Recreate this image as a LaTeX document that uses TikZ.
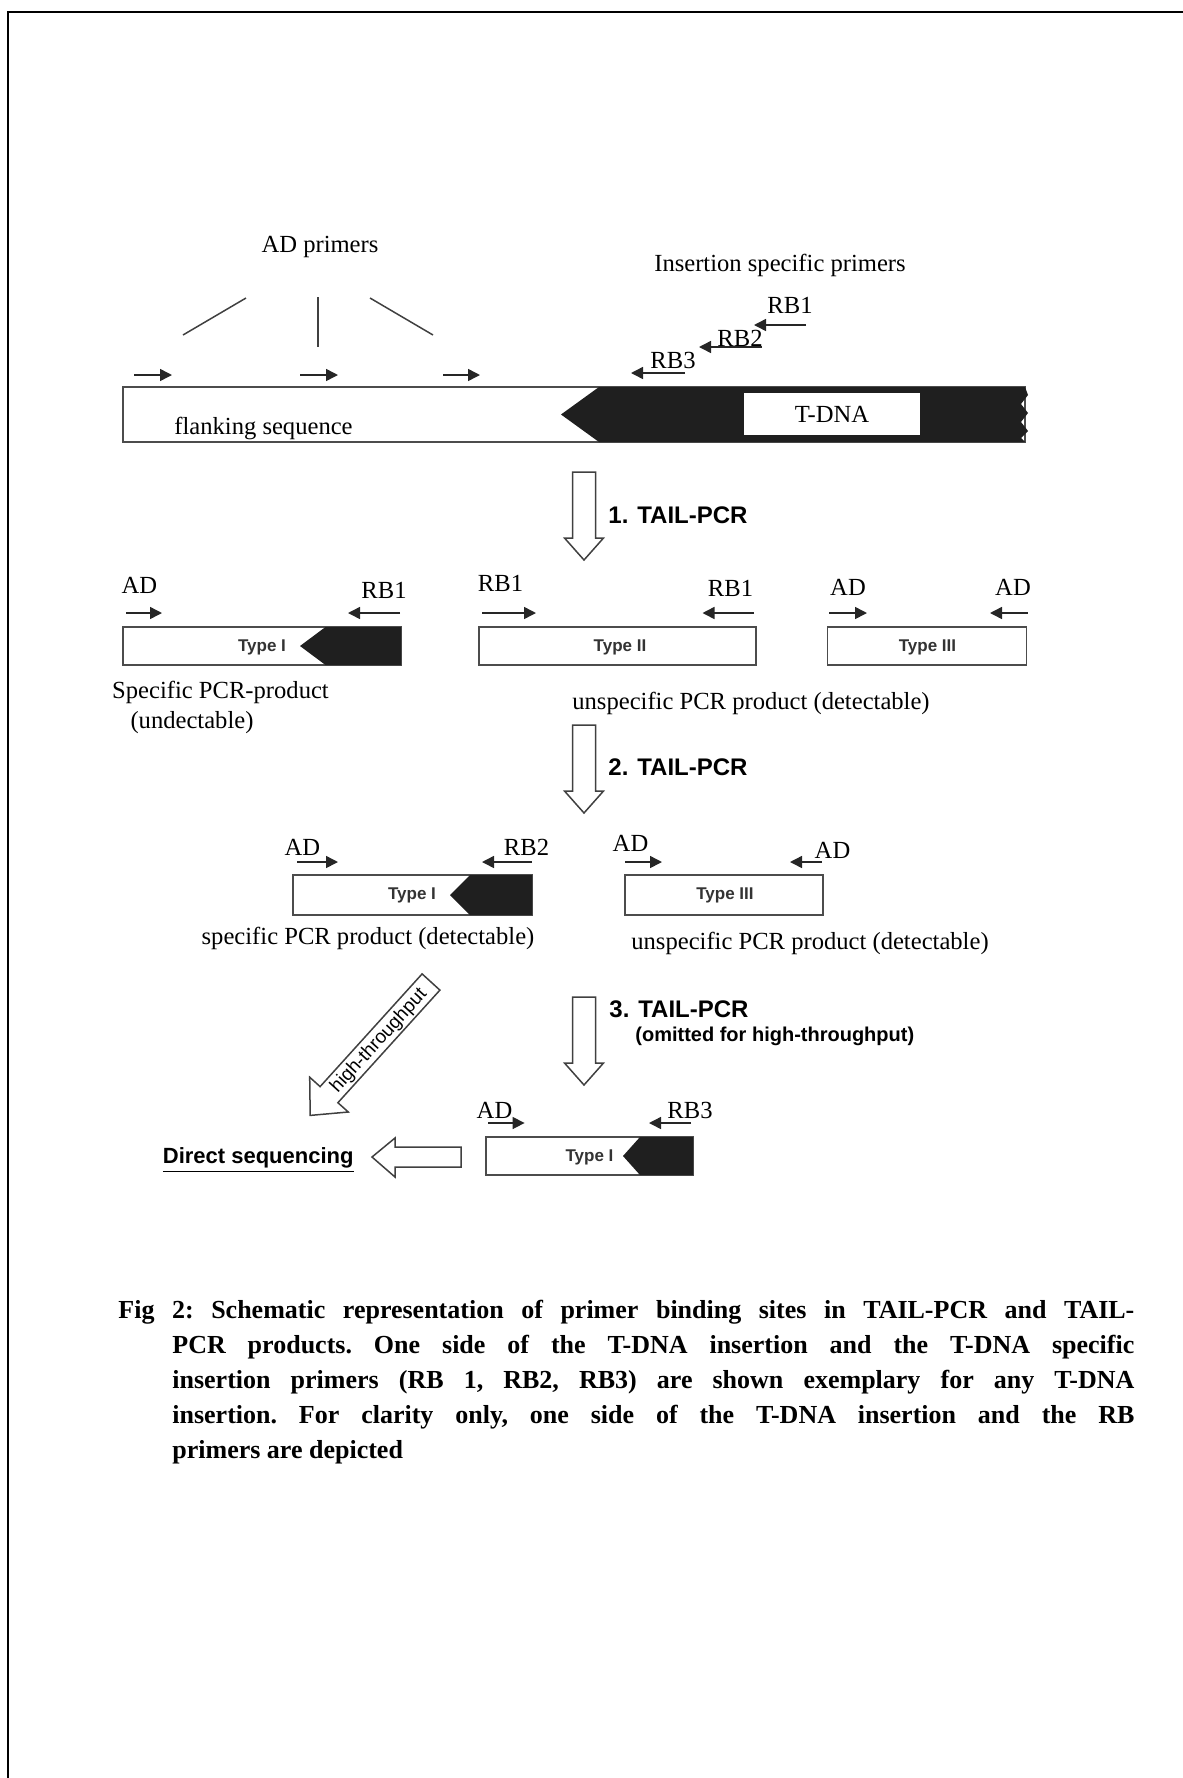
\documentclass[tikz,border=0pt]{standalone}
\usepackage{fontspec}
\setmainfont{Liberation Serif}
\setsansfont{Liberation Sans}
\usetikzlibrary{arrows.meta}
\begin{document}
\begin{tikzpicture}[x=0.5pt,y=-0.5pt,
  lbl/.style={font=\fontsize{12.3}{14}\selectfont, inner sep=0pt},
  typ/.style={font=\sffamily\bfseries\fontsize{8.5}{10}\selectfont, text=black!80, inner sep=0pt},
  pcr/.style={font=\sffamily\bfseries\fontsize{12}{14}\selectfont, inner sep=0pt, anchor=west},
  prim/.style={line width=0.75pt, draw=black!85, -{Triangle[length=6pt,width=6pt]}},
  seg/.style={line width=0.75pt, draw=black!75},
  dna/.style={draw=black!70, line width=0.8pt, fill=white},
  blk/.style={fill=black!88},
  hol/.style={draw=black!75, line width=0.75pt, fill=white, line join=miter},
  downarr/.pic={\draw[hol] (-11.5,0) -- (11.5,0) -- (11.5,66) -- (19.5,66) -- (0,88) -- (-19.5,66) -- (-11.5,66) -- cycle;}
]
\useasboundingbox (0,0) rectangle (1183,1778);
% frame
\draw[line width=1.3pt] (8,1778) -- (8,12) -- (1183,12);

% ---------- top: insertion ----------
\node[lbl] (adp) at (320,247) {AD primers};
\draw[seg] (183,335) -- (246,298);
\draw[seg] (318,297) -- (318,347);
\draw[seg] (370,298) -- (433,335);
\node[lbl] (isp) at (780,265) {Insertion specific primers};
\node[lbl] (rbA) at (790,305) {RB1};
\draw[prim] (806,325) -- (754,325);
\node[lbl] (rbB) at (740,338) {RB2};
\draw[prim] (762,347) -- (699,347);
\node[lbl] (rbC) at (673,360) {RB3};
\draw[prim] (685,373) -- (631,373);
\draw[prim] (134,375) -- (172,375);
\draw[prim] (300,375) -- (338,375);
\draw[prim] (443,375) -- (480,375);

\draw[dna] (123,387) rectangle (1025,442);
\fill[blk] (561,414.5) -- (599,387) -- (1025,387) -- (1028,395) -- (1021,404) -- (1028,413) -- (1021,422) -- (1028,431) -- (1021,438) -- (1025,442) -- (599,442) -- cycle;
\fill[white] (744,393) rectangle (920,435);
\node[lbl] (tdna) at (832,414) {T-DNA};
\node[lbl] (flank) at (263.5,428) {flanking sequence};

% ---------- step 1 ----------
\pic at (584,472) {downarr};
\node[pcr] (tp1) at (608,515) {1. TAIL-PCR};

\draw[dna] (123,627) rectangle (401,665);
\fill[blk] (300,646) -- (325.5,627) -- (401,627) -- (401,665) -- (325.5,665) -- cycle;
\node[typ] (ty1) at (262,647) {Type I};
\node[lbl] (ad1) at (139.5,585) {AD};
\draw[prim] (126,613) -- (162,613);
\node[lbl] (rb11) at (384,590) {RB1};
\draw[prim] (400,613) -- (348,613);

\draw[dna] (479,627) rectangle (756,665);
\node[typ] (ty2) at (620,647) {Type II};
\node[lbl] (rb12) at (500.5,583) {RB1};
\draw[prim] (482,613) -- (536,613);
\node[lbl] (rb13) at (730.5,588) {RB1};
\draw[prim] (754,613) -- (702.5,613);

\draw[dna] (827.5,627) rectangle (1026.4,665);
\node[typ] (ty3) at (927.5,647) {Type III};
\node[lbl] (ad2) at (848,587) {AD};
\draw[prim] (829,613) -- (867,613);
\node[lbl] (ad3) at (1013,587) {AD};
\draw[prim] (1027.5,613) -- (990,613);

\node[lbl] (sp1) at (220.5,692) {Specific PCR-product};
\node[lbl] (sp2) at (192,723) {(undectable)};
\node[lbl] (us1) at (751,703) {unspecific PCR product (detectable)};

% ---------- step 2 ----------
\pic at (584,725) {downarr};
\node[pcr] (tp2) at (608,767) {2. TAIL-PCR};

\draw[dna] (293,875) rectangle (532,915);
\fill[blk] (450,895) -- (470,875) -- (532,875) -- (532,915) -- (470,915) -- cycle;
\node[typ] (ty4) at (412,895) {Type I};
\node[lbl] (ad4) at (302.5,847) {AD};
\draw[prim] (297,862) -- (338,862);
\node[lbl] (rb21) at (526.5,847) {RB2};
\draw[prim] (532,862) -- (482,862);

\draw[dna] (625,875) rectangle (823,915);
\node[typ] (ty5) at (725,895) {Type III};
\node[lbl] (ad5) at (630.5,843) {AD};
\draw[prim] (625,862) -- (662,862);
\node[lbl] (ad6) at (832.5,850) {AD};
\draw[prim] (822,862) -- (790,862);

\node[lbl] (sp3) at (368,938) {specific PCR product (detectable)};
\node[lbl] (us2) at (810,943) {unspecific PCR product (detectable)};

% ---------- step 3 ----------
\pic at (584,997) {downarr};
\node[pcr] (tp3) at (609,1009) {3. TAIL-PCR};
\node[font=\sffamily\bfseries\fontsize{10}{12}\selectfont, anchor=west, inner sep=0pt] (omit) at (635,1036) {(omitted for high-throughput)};

\draw[hol] (439.9,990.1) -- (422.1,973.9) -- (320.1,1086.6) -- (309.7,1077.2) -- (310.2,1115.4) -- (348.3,1112.0) -- (337.9,1102.7) -- cycle;
\node[font=\sffamily\fontsize{9.5}{11}\selectfont, rotate=47.8, inner sep=0pt] (ht) at (379,1041) {high-throughput};

\draw[dna] (486,1137) rectangle (693,1175);
\fill[blk] (623,1156) -- (640,1137) -- (693,1137) -- (693,1175) -- (640,1175) -- cycle;
\node[typ] (ty6) at (589.5,1157) {Type I};
\node[lbl] (ad7) at (494.5,1110) {AD};
\draw[prim] (488,1123) -- (524.6,1123);
\node[lbl] (rb31) at (690,1110) {RB3};
\draw[prim] (691,1123) -- (649,1123);

\draw[hol] (461,1147) -- (461,1167) -- (395,1167) -- (395,1177) -- (372,1157) -- (395,1138) -- (395,1147) -- cycle;
\node[font=\sffamily\bfseries\fontsize{11}{13}\selectfont, anchor=east, inner sep=0pt] (dseq) at (354,1160) {\underline{Direct sequencing}};

% ---------- caption ----------
\node[anchor=north west, inner sep=0pt] (cap) at (118,1300)
{\parbox[t]{508pt}{\bfseries\fontsize{13}{17.5}\selectfont\frenchspacing\tolerance=10000\hangindent=27pt\hangafter=1\noindent Fig 2: Schematic representation of primer binding sites in TAIL-PCR and TAIL-\linebreak PCR products. One side of the T-DNA insertion and the T-DNA specific\linebreak insertion primers (RB 1, RB2, RB3) are shown exemplary for any T-DNA\linebreak insertion. For clarity only, one side of the T-DNA insertion and the RB\linebreak primers are depicted\par}};
\end{tikzpicture}
\end{document}
